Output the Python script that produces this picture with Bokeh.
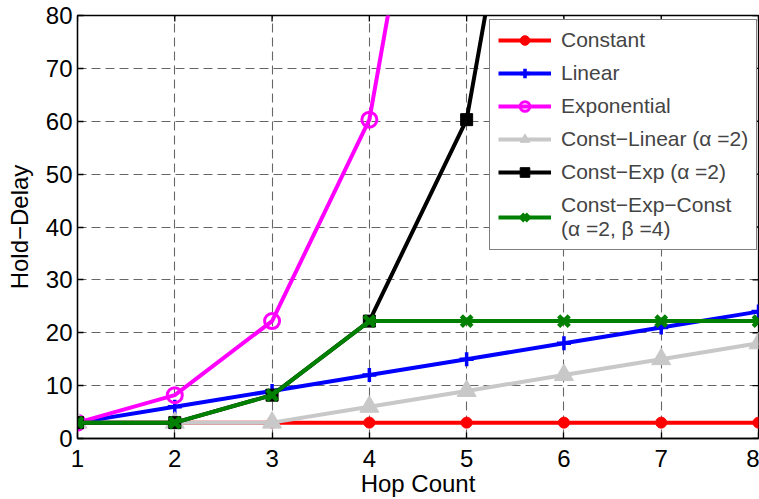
import math
from bokeh.plotting import figure
from bokeh.models import FixedTicker, Legend, Range1d
from bokeh.embed import file_html
from bokeh.resources import INLINE

# ---- data ----
hops = [1, 2, 3, 4, 5, 6, 7, 8]
constant = [3, 3, 3, 3, 3, 3, 3, 3]
linear = [3, 6, 9, 12, 15, 18, 21, 24]
exponential = [3, 8.2, 22.2, 60.3, 163.8, 445.2, 1210.3, 3290.0]
const_linear = [3, 3, 3, 6, 9, 12, 15, 18]
const_exp = [3, 3, 8.2, 22.2, 60.3, 163.8, 445.2, 1210.3]
const_exp_const = [3, 3, 8.2, 22.2, 22.2, 22.2, 22.2, 22.2]
x_ticks = [1, 2, 3, 4, 5, 6, 7, 8]
y_ticks = [0, 10, 20, 30, 40, 50, 60, 70, 80]
x_min, x_max = 1, 8
y_min, y_max = 0, 80

FONT = "Liberation Sans"

p = figure(width=759, height=499, output_backend="svg", toolbar_location=None,
           x_range=Range1d(x_min, x_max), y_range=Range1d(y_min, y_max),
           min_border_left=77, min_border_right=1, min_border_top=15, min_border_bottom=61)
p.outline_line_color = "black"
p.outline_line_width = 1.3
p.background_fill_color = "white"
p.border_fill_color = "white"

for ax in (p.xaxis[0], p.yaxis[0]):
    ax.major_tick_in = 6
    ax.major_tick_out = 0
    ax.minor_tick_line_color = None
    ax.major_label_text_font = FONT
    ax.major_label_text_font_size = "24px"
    ax.major_label_text_color = "black"
    ax.axis_label_text_font = FONT
    ax.axis_label_text_font_size = "24px"
    ax.axis_label_text_font_style = "normal"
    ax.axis_label_text_color = "black"
    ax.axis_line_color = "black"
    ax.axis_line_width = 1.3
    ax.major_tick_line_color = "black"
    ax.major_tick_line_width = 1.3

p.xaxis.ticker = FixedTicker(ticks=x_ticks)
p.yaxis.ticker = FixedTicker(ticks=y_ticks)
p.xaxis.axis_label = "Hop Count"
p.yaxis.axis_label = "Hold\u2212Delay"
p.xaxis.major_label_standoff = 11
p.yaxis.major_label_standoff = 5
p.xaxis.axis_label_standoff = 0
p.yaxis.axis_label_standoff = 10

for g in (p.xgrid[0], p.ygrid[0]):
    g.grid_line_color = "black"
    g.grid_line_alpha = 0.6
    g.grid_line_dash = "9 5"
    g.grid_line_width = 1.1
p.xgrid.ticker = FixedTicker(ticks=x_ticks)
p.ygrid.ticker = FixedTicker(ticks=y_ticks)

# inside tick marks on the top and right edges (half of each dash is clipped by the frame)
p.scatter(x_ticks, [y_max] * len(x_ticks), marker="dash", angle=math.pi / 2, size=12,
          line_color="black", line_width=1.3)
p.scatter([x_max] * len(y_ticks), y_ticks, marker="dash", size=12,
          line_color="black", line_width=1.3)

LW = 4
items = []

r1 = p.line(hops, constant, line_color="red", line_width=LW)
m1 = p.scatter(hops, constant, marker="circle", size=11, fill_color="red", line_color="red")
items.append(("Constant", [r1, m1]))

r2 = p.line(hops, linear, line_color="blue", line_width=LW)
m2 = p.scatter(hops, linear, marker="cross", size=14, line_color="blue", line_width=3.5)
items.append(("Linear", [r2, m2]))

r3 = p.line(hops, exponential, line_color="magenta", line_width=LW)
m3 = p.scatter(hops, exponential, marker="circle", size=15, fill_color=None,
               line_color="magenta", line_width=3)
items.append(("Exponential", [r3, m3]))

r4 = p.line(hops, const_linear, line_color="#c8c8c8", line_width=LW)
m4 = p.scatter(hops, const_linear, marker="triangle", size=19, fill_color="#c8c8c8",
               line_color="#c8c8c8")
items.append(("Const\u2212Linear (\u03b1 =2)", [r4, m4]))

r5 = p.line(hops, const_exp, line_color="black", line_width=LW)
m5 = p.scatter(hops, const_exp, marker="square", size=12, fill_color="black", line_color="black")
items.append(("Const\u2212Exp (\u03b1 =2)", [r5, m5]))

r6 = p.line(hops, const_exp_const, line_color="green", line_width=LW)
m6 = p.scatter(hops, const_exp_const, marker="x", size=15, line_color="green", line_width=4.5)
items.append(("Const\u2212Exp\u2212Const\n(\u03b1 =2, \u03b2 =4)", [r6, m6]))

legend = Legend(items=items, location=(412, 188),
                label_text_font=FONT, label_text_font_size="21px",
                glyph_width=53, glyph_height=24, label_height=24,
                spacing=9, padding=8, label_standoff=10, margin=0,
                border_line_color="black", border_line_width=1.3,
                background_fill_color="white", background_fill_alpha=1)
p.add_layout(legend, "center")

open("out.html", "w").write(file_html(p, INLINE))
